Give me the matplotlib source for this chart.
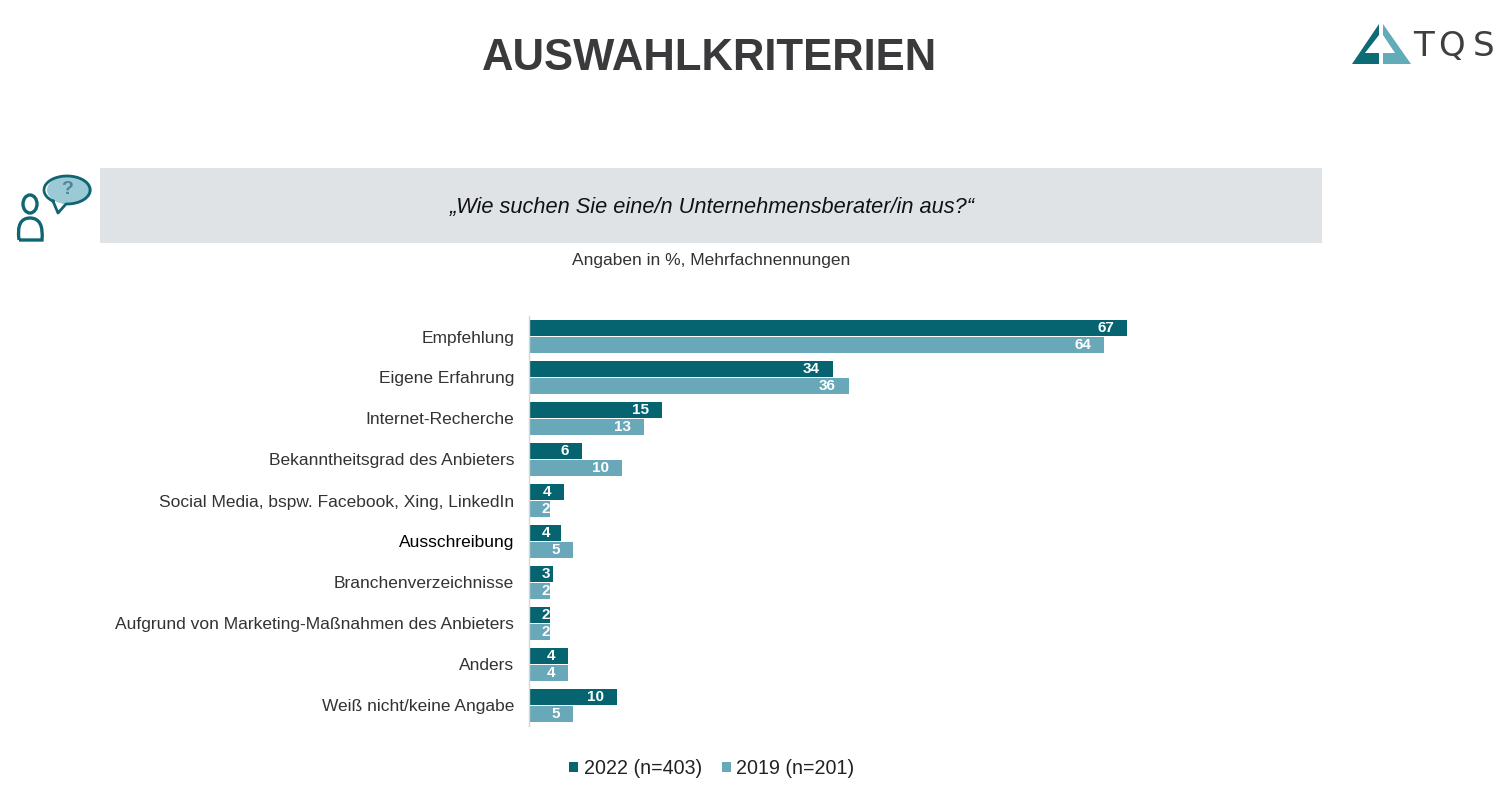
import matplotlib
matplotlib.use("Agg")
import matplotlib.pyplot as plt
import numpy as np
from matplotlib.patches import Ellipse, PathPatch, Polygon, Rectangle
from matplotlib.path import Path

plt.rcParams['font.family'] = ['Liberation Sans', 'DejaVu Sans']

categories = [
    "Empfehlung",
    "Eigene Erfahrung",
    "Internet-Recherche",
    "Bekanntheitsgrad des Anbieters",
    "Social Media, bspw. Facebook, Xing, LinkedIn",
    "Ausschreibung",
    "Branchenverzeichnisse",
    "Aufgrund von Marketing-Maßnahmen des Anbieters",
    "Anders",
    "Weiß nicht/keine Angabe",
]
# bar lengths, the printed labels are the rounded ones
values_2022 = [67.1, 34.0, 14.8, 5.8, 3.8, 3.5, 2.6, 2.2, 4.3, 9.8]
values_2019 = [64.5, 35.8, 12.8, 10.3, 2.2, 4.8, 2.2, 2.2, 4.3, 4.8]
labels_2022 = [67, 34, 15, 6, 4, 4, 3, 2, 4, 10]
labels_2019 = [64, 36, 13, 10, 2, 5, 2, 2, 4, 5]

DARK = "#05646f"
LIGHT = "#68a8b9"
TEXT = "#333333"
ICON = "#0f6672"

W, H = 1502, 799
fig = plt.figure(figsize=(W / 100, H / 100), dpi=100, facecolor="white")

# page furniture is drawn in pixel coordinates on a full size axes
bg = fig.add_axes([0, 0, 1, 1])
bg.set_xlim(0, W)
bg.set_ylim(H, 0)
bg.axis("off")

bg.text(710, 58, "AUSWAHLKRITERIEN", fontsize=31.4, fontweight="bold", color="#3a3a3d",
        ha="center", va="center")

bg.add_patch(Rectangle((100, 168), 1222, 75, facecolor="#e0e3e6", edgecolor="none"))
bg.text(712, 207, "„Wie suchen Sie eine/n Unternehmensberater/in aus?“", fontsize=15.7,
        style="italic", color="#111111", ha="center", va="center")
bg.text(711, 260, "Angaben in %, Mehrfachnennungen", fontsize=12.5, color=TEXT,
        ha="center", va="center")

# logo
bg.add_patch(Polygon([(1379, 24), (1379, 35), (1365, 53), (1379, 53), (1379, 64), (1352, 64)],
                     facecolor="#0d6b76", edgecolor="none"))
bg.add_patch(Polygon([(1383, 24), (1411, 64), (1383, 64), (1383, 53), (1395, 53), (1383, 35)],
                     facecolor="#62abb9", edgecolor="none"))
for letter, x in zip("TQS", [1423.5, 1451, 1483.5]):
    bg.text(x, 47, letter, fontsize=24.5, color="#3f3f42", family="DejaVu Sans", ha="center", va="center")

# question icon
bg.add_patch(Ellipse((69.5, 190), 45, 29, facecolor="#9cc9d6", edgecolor="none"))
t = np.radians(np.linspace(127.5, 452.5, 80))
outline = np.column_stack([67 + 23 * np.cos(t), 190 + 14 * np.sin(t)])
outline = np.vstack([outline, [(58, 213)], outline[:1]])
bg.plot(outline[:, 0], outline[:, 1], color=ICON, linewidth=2, solid_joinstyle="round")
bg.text(67, 190, "?", fontsize=14, fontweight="bold", color="#4d8797", ha="center", va="center")
bg.add_patch(Ellipse((30, 204), 14, 18, facecolor="none", edgecolor=ICON, linewidth=2.4))
body = Path([(19, 240), (16, 218), (30, 218), (44, 218), (42, 240), (19, 240)],
            [Path.MOVETO, Path.CURVE3, Path.CURVE3, Path.CURVE3, Path.CURVE3, Path.LINETO])
bg.add_patch(PathPatch(body, facecolor="none", edgecolor=ICON, linewidth=2.4))

# chart
px_per_unit = 8.9
left, right, top, bottom = 530, 1322, 316, 726
ax = fig.add_axes([left / W, 1 - bottom / H, (right - left) / W, (bottom - top) / H])
ax.patch.set_alpha(0)

# set_position resets the ticks, so do the spines first
for s in ["top", "right", "bottom"]:
    ax.spines[s].set_visible(False)
ax.spines["left"].set_color("#d8d5d2")
ax.spines["left"].set_linewidth(1.0)
ax.spines["left"].set_position(("outward", 0.7))

ax.set_xlim(0, (right - left) / px_per_unit)
ax.set_ylim(len(categories) - 0.5, -0.5)

y = np.arange(len(categories))
bars_a = ax.barh(y - 0.207, values_2022, height=0.385, color=DARK, label="2022 (n=403)")
bars_b = ax.barh(y + 0.207, values_2019, height=0.385, color=LIGHT, label="2019 (n=201)")

for bars, labels in [(bars_a, labels_2022), (bars_b, labels_2019)]:
    for bar, lab in zip(bars, labels):
        xpos = max(bar.get_width() - 1.45, 2.25)
        ax.text(xpos, bar.get_y() + bar.get_height() / 2 + 0.01, str(lab), color="white",
                fontsize=11, fontweight="bold", ha="right", va="center")

ax.set_yticks(y)
ax.set_yticklabels(categories, fontsize=12.5, color=TEXT)
ax.get_yticklabels()[5].set_color("black")
ax.tick_params(axis="y", length=0, pad=10.7)
ax.set_xticks([])

fig.legend(handles=[bars_a, bars_b], loc="center", bbox_to_anchor=(712 / W, 1 - 768.5 / H),
           ncol=2, frameon=False, fontsize=14.1, handlelength=0.45, handleheight=0.45,
           handletextpad=0.3, columnspacing=1.0, labelcolor="#222222")

fig.savefig("out.png", dpi=100)
